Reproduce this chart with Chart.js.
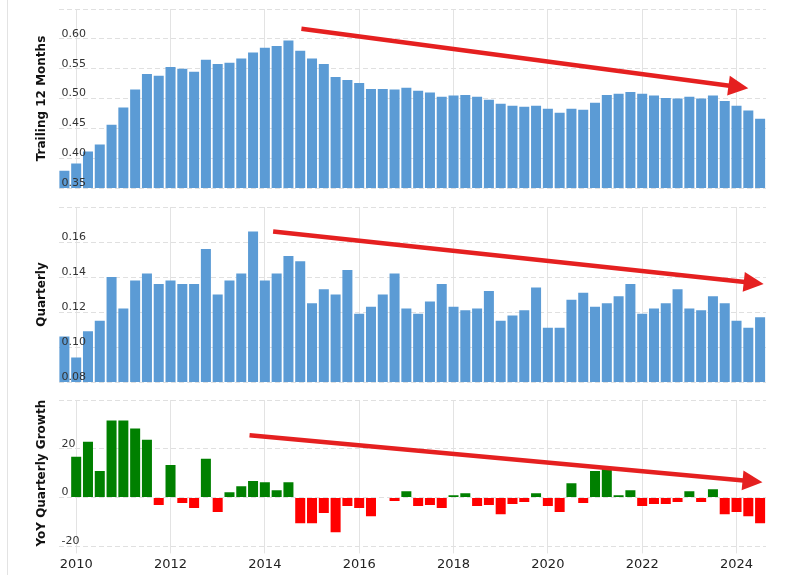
<!DOCTYPE html>
<html>
<head>
<meta charset="utf-8">
<script src="https://cdn.jsdelivr.net/npm/chart.js@4.4.0/dist/chart.umd.min.js"></script>
<style>
  body { margin: 0; background: #fff; }
  #wrap { position: relative; width: 800px; height: 575px; overflow: hidden; }
  #wrap canvas { position: absolute; left: 0; }
  #edge { position: absolute; left: 7px; top: 0; width: 1px; height: 575px; background: #e3e3e3; }
</style>
</head>
<body>
<div id="wrap">
  <div id="edge"></div>
  <canvas id="ttmChart" width="800" height="195" style="top:0px"></canvas>
  <canvas id="qtrChart" width="800" height="195" style="top:195px"></canvas>
  <canvas id="yoyChart" width="800" height="185" style="top:390px"></canvas>
</div>
<script>
// quarter end dates
const quarters = [
  '2009-09-30','2009-12-31','2010-03-31','2010-06-30','2010-09-30','2010-12-31','2011-03-31','2011-06-30',
  '2011-09-30','2011-12-31','2012-03-31','2012-06-30','2012-09-30','2012-12-31','2013-03-31','2013-06-30',
  '2013-09-30','2013-12-31','2014-03-31','2014-06-30','2014-09-30','2014-12-31','2015-03-31','2015-06-30',
  '2015-09-30','2015-12-31','2016-03-31','2016-06-30','2016-09-30','2016-12-31','2017-03-31','2017-06-30',
  '2017-09-30','2017-12-31','2018-03-31','2018-06-30','2018-09-30','2018-12-31','2019-03-31','2019-06-30',
  '2019-09-30','2019-12-31','2020-03-31','2020-06-30','2020-09-30','2020-12-31','2021-03-31','2021-06-30',
  '2021-09-30','2021-12-31','2022-03-31','2022-06-30','2022-09-30','2022-12-31','2023-03-31','2023-06-30',
  '2023-09-30','2023-12-31','2024-03-31','2024-06-30'
];

const ttmValues = [
  0.379,0.391,0.411,0.423,0.456,0.485,0.515,0.541,0.538,0.553,
  0.550,0.545,0.565,0.558,0.560,0.567,0.577,0.585,0.588,0.597,
  0.580,0.567,0.558,0.536,0.531,0.526,0.516,0.516,0.515,0.518,
  0.513,0.510,0.503,0.505,0.506,0.503,0.498,0.491,0.488,0.486,
  0.488,0.483,0.476,0.483,0.481,0.493,0.506,0.508,0.511,0.508,
  0.505,0.501,0.500,0.503,0.500,0.505,0.496,0.488,0.480,0.466
];

const quarterlyValues = [
  0.106,0.094,0.109,0.115,0.140,0.122,0.138,0.142,0.136,0.138,
  0.136,0.136,0.156,0.130,0.138,0.142,0.166,0.138,0.142,0.152,
  0.149,0.125,0.133,0.130,0.144,0.119,0.123,0.130,0.142,0.122,
  0.119,0.126,0.136,0.123,0.121,0.122,0.132,0.115,0.118,0.121,
  0.134,0.111,0.111,0.127,0.131,0.123,0.125,0.129,0.136,0.119,
  0.122,0.125,0.133,0.122,0.121,0.129,0.125,0.115,0.111,0.117
];

const yoyGrowth = [
  null,16.7,22.9,10.9,31.6,31.6,28.3,23.7,-3.0,13.4,
  -2.2,-4.3,15.9,-5.9,2.2,4.7,6.8,6.3,3.0,6.3,
  -10.5,-10.5,-6.3,-14.2,-3.4,-4.3,-7.6,0.2,-1.4,2.6,
  -3.4,-3.0,-4.3,1.0,1.8,-3.4,-3.0,-6.8,-2.6,-1.8,
  1.8,-3.4,-5.9,5.9,-2.2,10.9,11.7,1.0,3.0,-3.4,
  -2.6,-2.6,-1.8,2.6,-1.8,3.4,-6.8,-5.9,-7.6,-10.5
];

// trend arrows, in [category index, value]
const ttmArrow = { from: [20.1, 0.617], to: [58.0, 0.517] };
const qtrArrow = { from: [17.7, 0.166], to: [59.3, 0.136] };
const yoyArrow = { from: [15.7, 25.6], to: [59.2, 6.3] };

const font = "'DejaVu Sans', Verdana, sans-serif";

function isYearTick(i) {
  const q = quarters[i];
  if (!q || !q.endsWith('-12-31')) return false;
  return (parseInt(q.slice(0, 4)) + 1) % 2 === 0;
}

const trendArrow = {
  id: 'trendArrow',
  afterDatasetsDraw(chart, args, opts) {
    if (!opts.from) return;
    const { ctx, scales: { x, y } } = chart;
    const x1 = x.getPixelForValue(opts.from[0]), y1 = y.getPixelForValue(opts.from[1]);
    const x2 = x.getPixelForValue(opts.to[0]), y2 = y.getPixelForValue(opts.to[1]);
    const ang = Math.atan2(y2 - y1, x2 - x1);
    const len = 20, half = 10;
    const bx = x2 - len * Math.cos(ang), by = y2 - len * Math.sin(ang);
    ctx.save();
    ctx.strokeStyle = '#e52020';
    ctx.fillStyle = '#e52020';
    ctx.lineWidth = 4.5;
    ctx.beginPath();
    ctx.moveTo(x1, y1);
    ctx.lineTo(bx + Math.cos(ang), by + Math.sin(ang));
    ctx.stroke();
    ctx.beginPath();
    ctx.moveTo(x2, y2);
    ctx.lineTo(bx + half * Math.sin(ang), by - half * Math.cos(ang));
    ctx.lineTo(bx - half * Math.sin(ang), by + half * Math.cos(ang));
    ctx.closePath();
    ctx.fill();
    ctx.restore();
  }
};

function makePanel(id, opts) {
  return new Chart(document.getElementById(id), {
    type: 'bar',
    data: {
      labels: quarters,
      datasets: [{
        data: opts.values,
        backgroundColor: opts.colors,
        barPercentage: 0.85,
        categoryPercentage: 1.0
      }]
    },
    plugins: [trendArrow],
    options: {
      responsive: false,
      animation: false,
      layout: { padding: opts.padding },
      plugins: {
        legend: { display: false },
        tooltip: { enabled: false },
        trendArrow: opts.arrow
      },
      scales: {
        x: {
          grid: {
            offset: false,
            color: ctx => isYearTick(ctx.index) ? '#e3e3e3' : 'rgba(0,0,0,0)',
            drawTicks: opts.showX,
            tickLength: 7
          },
          border: { display: false },
          ticks: {
            display: opts.showX,
            autoSkip: false,
            maxRotation: 0,
            padding: 3,
            color: '#222',
            font: { family: font, size: 13 },
            callback: (v, i) => isYearTick(i) ? String(parseInt(quarters[i].slice(0, 4)) + 1) : ''
          }
        },
        y: {
          min: opts.min,
          max: opts.max,
          afterFit: axis => {
            axis.width = 27.5;
            axis.paddingTop = 0;
            axis.paddingBottom = 0;
          },
          grid: { color: '#e0e0e0', drawTicks: false },
          border: { display: false, dash: [5, 3] },
          ticks: {
            stepSize: opts.step,
            mirror: true,
            padding: 3,
            labelOffset: -5,
            z: 1,
            color: '#333',
            font: { family: font, size: 11 },
            callback: v => v >= opts.max - 1e-9 ? '' : opts.fmt(v)
          },
          title: {
            display: true,
            text: opts.title,
            color: '#111',
            font: { family: font, size: 12, weight: 'bold' }
          }
        }
      }
    }
  });
}

makePanel('ttmChart', {
  values: ttmValues, colors: '#5b9bd5', min: 0.35, max: 0.65, step: 0.05,
  fmt: v => v.toFixed(2), title: 'Trailing 12 Months', arrow: ttmArrow,
  showX: false, padding: { left: 31, right: 34, top: 9, bottom: 7 }
});

makePanel('qtrChart', {
  values: quarterlyValues, colors: '#5b9bd5', min: 0.08, max: 0.18, step: 0.02,
  fmt: v => v.toFixed(2), title: 'Quarterly', arrow: qtrArrow,
  showX: false, padding: { left: 31, right: 34, top: 12, bottom: 8 }
});

makePanel('yoyChart', {
  values: yoyGrowth, colors: yoyGrowth.map(v => v >= 0 ? '#008000' : '#ff0000'),
  min: -20, max: 40, step: 20,
  fmt: v => String(Math.round(v)), title: 'YoY Quarterly Growth', arrow: yoyArrow,
  showX: true, padding: { left: 31, right: 34, top: 10, bottom: 0 }
});
</script>
</body>
</html>
